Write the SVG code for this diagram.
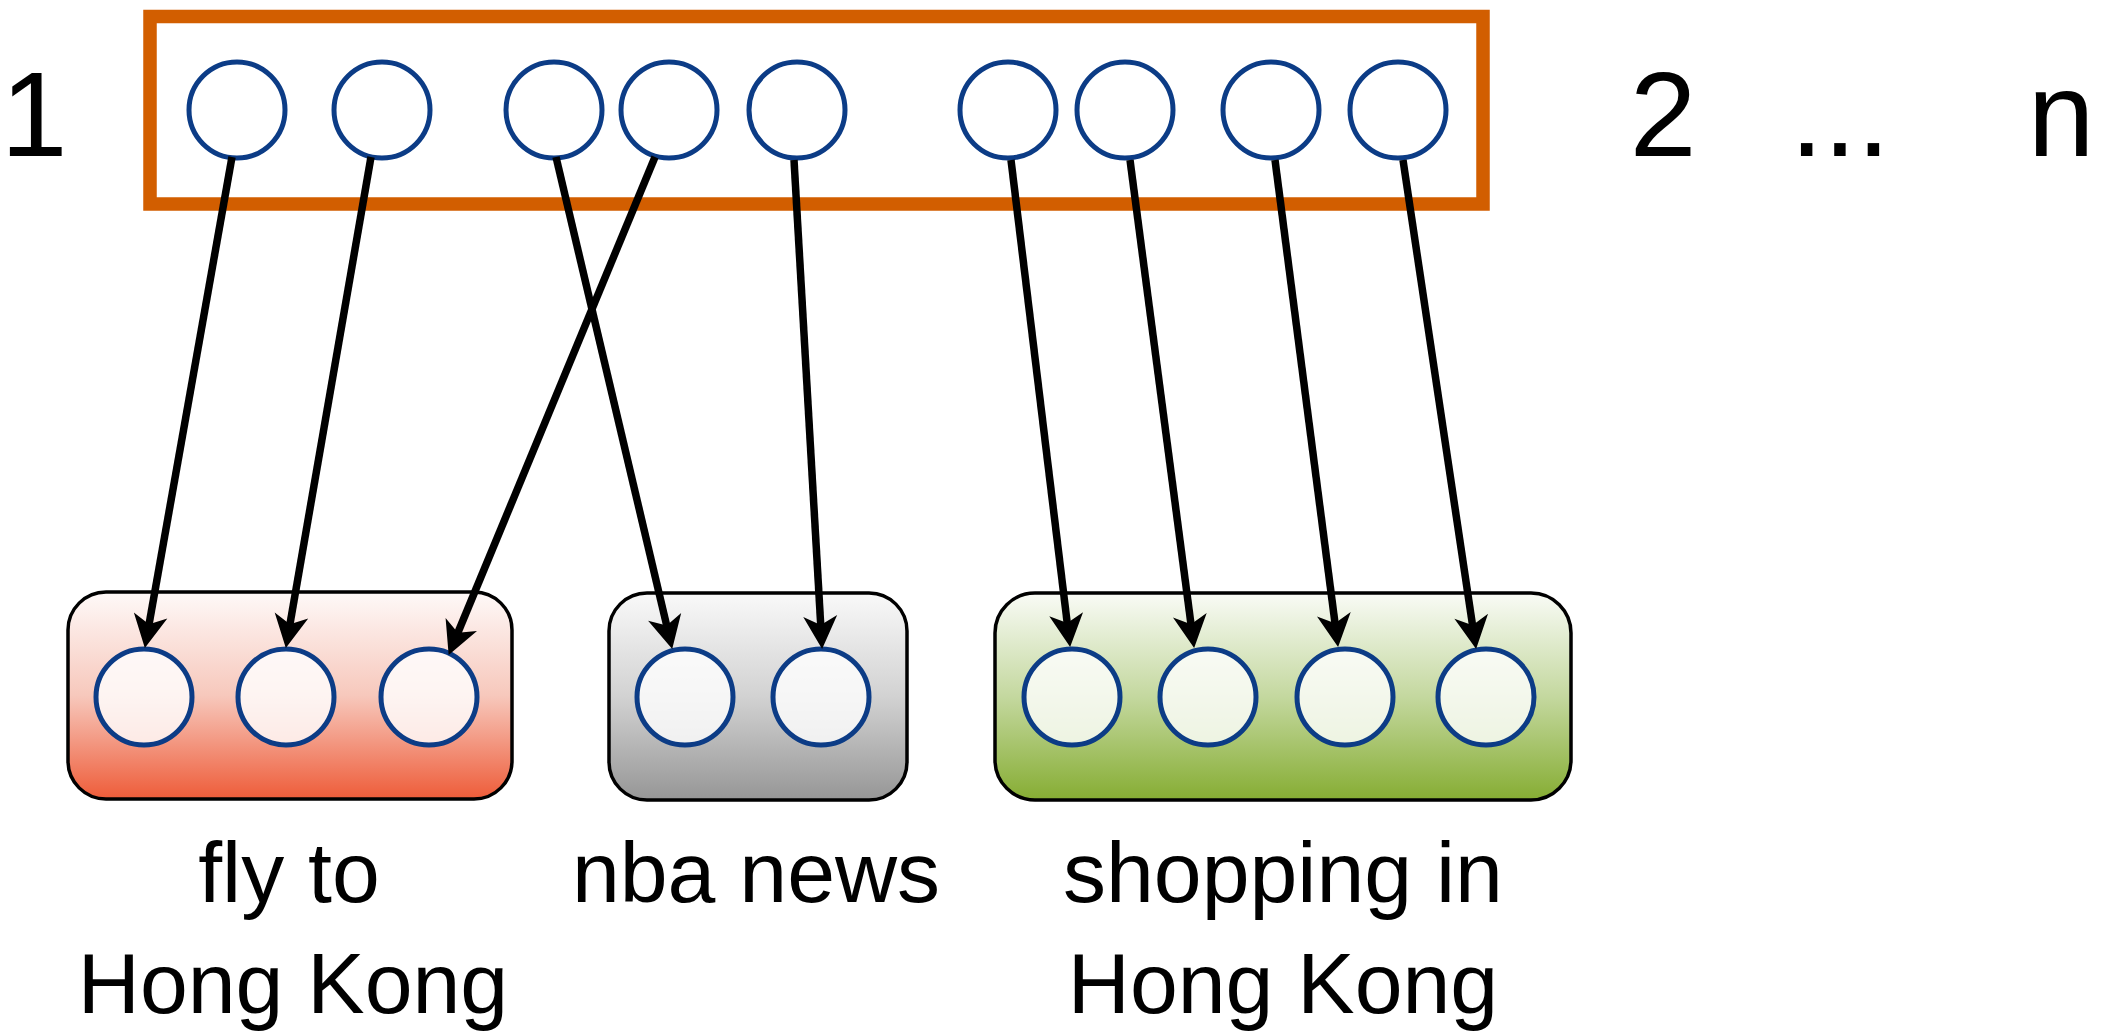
<svg xmlns="http://www.w3.org/2000/svg" width="2110" height="1035" viewBox="0 0 2110 1035">
  <style>
    .lbl { font-family: "Liberation Sans", Arial, sans-serif; font-size: 86px; fill: #000; text-anchor: middle; }
    .big { font-family: "Liberation Sans", Arial, sans-serif; font-size: 120px; fill: #000; text-anchor: middle; }
    .unit { stroke: #0C3C86; stroke-width: 5; }
    .top { fill: #fff; }
    .sub { fill: #fff; fill-opacity: 0.8; }
    .grp { stroke: #000; stroke-width: 3.5; }
    .edge { stroke: #000; stroke-width: 7.5; fill: none; marker-end: url(#head); }
  </style>
  <defs>
    <linearGradient id="gRed" x1="0" y1="0" x2="0" y2="1">
      <stop offset="0" stop-color="#FEF9F8"/>
      <stop offset="0.5" stop-color="#F7C8BC"/>
      <stop offset="1" stop-color="#EE5C39"/>
    </linearGradient>
    <linearGradient id="gGray" x1="0" y1="0" x2="0" y2="1">
      <stop offset="0" stop-color="#F9F9F9"/>
      <stop offset="0.5" stop-color="#D2D2D2"/>
      <stop offset="1" stop-color="#969696"/>
    </linearGradient>
    <linearGradient id="gGreen" x1="0" y1="0" x2="0" y2="1">
      <stop offset="0" stop-color="#F9FBF6"/>
      <stop offset="0.5" stop-color="#C4D89F"/>
      <stop offset="1" stop-color="#86AD33"/>
    </linearGradient>
    <marker id="head" markerUnits="userSpaceOnUse" viewBox="0 -17 33 34" refX="12" refY="0" markerWidth="33" markerHeight="34" orient="auto" overflow="visible">
      <path d="M33,0 L0,-17 L9,0 L0,17 Z" fill="#000"/>
    </marker>
  </defs>

  <!-- index labels -->
  <text class="big" x="34" y="156">1</text>
  <text class="big" x="1663" y="156">2</text>
  <text class="big" x="1840" y="156">...</text>
  <text class="big" x="2061" y="156">n</text>

  <!-- input sequence -->
  <g id="sequence">
    <rect x="150" y="16.5" width="1333" height="187.5" fill="#fff" stroke="#D25E00" stroke-width="13.5"/>
    <circle class="unit top" cx="237" cy="110" r="48"/>
    <circle class="unit top" cx="382" cy="110" r="48"/>
    <circle class="unit top" cx="554" cy="110" r="48"/>
    <circle class="unit top" cx="669" cy="110" r="48"/>
    <circle class="unit top" cx="797" cy="110" r="48"/>
    <circle class="unit top" cx="1008" cy="110" r="48"/>
    <circle class="unit top" cx="1125" cy="110" r="48"/>
    <circle class="unit top" cx="1271" cy="110" r="48"/>
    <circle class="unit top" cx="1398" cy="110" r="48"/>
  </g>

  <!-- topic groups -->
  <g id="fly-to-hong-kong">
    <rect class="grp" x="68" y="592" width="444" height="207" rx="38" fill="url(#gRed)"/>
    <circle class="unit sub" cx="144" cy="697" r="48"/>
    <circle class="unit sub" cx="286" cy="697" r="48"/>
    <circle class="unit sub" cx="429" cy="697" r="48"/>
    <text class="lbl" x="289" y="902">fly to</text>
    <text class="lbl" x="293" y="1013">Hong Kong</text>
  </g>

  <g id="nba-news">
    <rect class="grp" x="609" y="593" width="298" height="207" rx="38" fill="url(#gGray)"/>
    <circle class="unit sub" cx="685" cy="697" r="48"/>
    <circle class="unit sub" cx="821" cy="697" r="48"/>
    <text class="lbl" x="756" y="902">nba news</text>
  </g>

  <g id="shopping-in-hong-kong">
    <rect class="grp" x="995" y="593" width="576" height="207" rx="40" fill="url(#gGreen)"/>
    <circle class="unit sub" cx="1072" cy="697" r="48"/>
    <circle class="unit sub" cx="1208" cy="697" r="48"/>
    <circle class="unit sub" cx="1345" cy="697" r="48"/>
    <circle class="unit sub" cx="1486" cy="697" r="48"/>
    <text class="lbl" x="1283" y="902">shopping in</text>
    <text class="lbl" x="1283" y="1013">Hong Kong</text>
  </g>

  <!-- assignments of sequence items to topics -->
  <g id="connectors">
    <line class="edge" x1="232" y1="157" x2="148.5" y2="627.3"/>
    <line class="edge" x1="371" y1="157" x2="289.4" y2="627.3"/>
    <line class="edge" x1="556" y1="157" x2="667.4" y2="628.5"/>
    <line class="edge" x1="655" y1="157" x2="456.7" y2="635.5"/>
    <line class="edge" x1="794" y1="160" x2="820.9" y2="628.0"/>
    <line class="edge" x1="1011" y1="160" x2="1067.6" y2="626.1"/>
    <line class="edge" x1="1130" y1="160" x2="1191.4" y2="627.2"/>
    <line class="edge" x1="1275" y1="160" x2="1335.4" y2="626.2"/>
    <line class="edge" x1="1403" y1="160" x2="1473.0" y2="628.2"/>
  </g>
</svg>
